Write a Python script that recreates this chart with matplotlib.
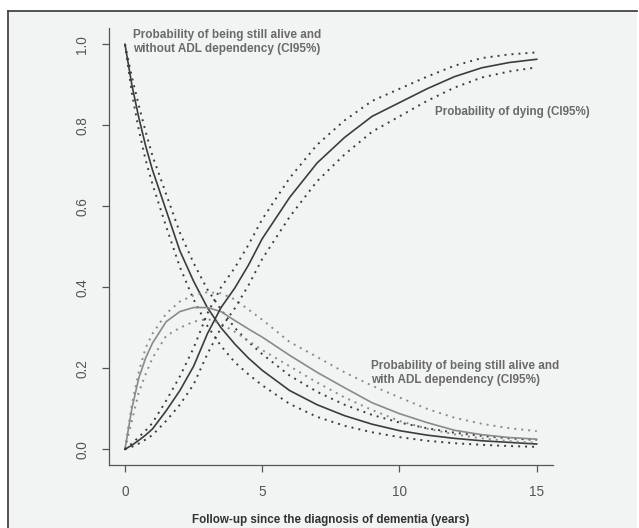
import numpy as np
import matplotlib.pyplot as plt
from matplotlib.patches import Rectangle
from matplotlib.lines import Line2D

plt.rcParams['font.family'] = ['Liberation Sans', 'DejaVu Sans']

# follow-up time (years)
t = [0, 0.25, 0.5, 0.75, 1, 1.5, 2, 2.5, 3, 3.5, 4, 4.5, 5, 6, 7, 8, 9, 10, 11, 12, 13, 14, 15]

# alive without ADL dependency
noadl = [1.0, 0.90, 0.82, 0.75, 0.69, 0.59, 0.49, 0.415, 0.35, 0.30, 0.26, 0.225, 0.195,
         0.145, 0.11, 0.083, 0.062, 0.046, 0.035, 0.027, 0.021, 0.017, 0.013]
noadl_hi = [1.0, 0.92, 0.85, 0.785, 0.725, 0.63, 0.535, 0.46, 0.395, 0.345, 0.30, 0.265, 0.235,
            0.182, 0.142, 0.11, 0.085, 0.066, 0.052, 0.041, 0.033, 0.027, 0.023]
noadl_lo = [1.0, 0.88, 0.79, 0.715, 0.655, 0.55, 0.45, 0.37, 0.305, 0.255, 0.215, 0.185, 0.158,
            0.112, 0.08, 0.058, 0.042, 0.03, 0.021, 0.015, 0.011, 0.008, 0.006]

# alive with ADL dependency
adl = [0, 0.10, 0.175, 0.225, 0.262, 0.315, 0.34, 0.35, 0.35, 0.34, 0.318, 0.297, 0.277,
       0.232, 0.19, 0.152, 0.115, 0.088, 0.066, 0.047, 0.036, 0.029, 0.025]
adl_hi = [0, 0.11, 0.19, 0.25, 0.285, 0.335, 0.365, 0.38, 0.388, 0.385, 0.37, 0.345, 0.32,
          0.265, 0.228, 0.19, 0.157, 0.128, 0.10, 0.078, 0.063, 0.052, 0.045]
adl_lo = [0, 0.07, 0.14, 0.185, 0.225, 0.28, 0.30, 0.315, 0.322, 0.31, 0.29, 0.268, 0.245,
          0.205, 0.165, 0.128, 0.097, 0.07, 0.051, 0.037, 0.027, 0.02, 0.016]

# dying
dead = [0, 0.01, 0.022, 0.035, 0.05, 0.095, 0.145, 0.205, 0.285, 0.35, 0.398, 0.455, 0.52,
        0.622, 0.707, 0.77, 0.822, 0.856, 0.89, 0.92, 0.942, 0.955, 0.963]
dead_hi = [0, 0.014, 0.03, 0.046, 0.065, 0.12, 0.18, 0.25, 0.335, 0.40, 0.448, 0.505, 0.568,
           0.67, 0.752, 0.812, 0.86, 0.89, 0.92, 0.947, 0.966, 0.975, 0.98]
dead_lo = [0, 0.006, 0.014, 0.024, 0.035, 0.07, 0.11, 0.16, 0.235, 0.30, 0.348, 0.405, 0.47,
           0.574, 0.662, 0.728, 0.784, 0.822, 0.86, 0.893, 0.918, 0.933, 0.943]

dark = '#3c3c3c'
grey = '#8a8a8a'
txt = '#6a6a6a'
dots = (0, (1, 2.6))

fig = plt.figure(figsize=(6.39, 5.28), dpi=100, facecolor='white')
fig.patches.append(Rectangle((8/639, 0), 629/639, 1 - 11/528, transform=fig.transFigure,
                             facecolor='#f2f3f3', edgecolor='none', zorder=-10))
fig.lines.append(Line2D([8/639, 637/639], [1 - 11/528, 1 - 11/528], transform=fig.transFigure,
                        color='#444444', lw=1.3))
fig.lines.append(Line2D([8/639, 8/639], [0, 1 - 11/528], transform=fig.transFigure,
                        color='#444444', lw=1.3))

ax = fig.add_axes([0.1698, 0.1184, 0.6959, 0.8284])
ax.set_facecolor('none')

ax.plot(t, noadl, color=dark, lw=1.2)
ax.plot(t, noadl_hi, color=dark, lw=1.4, ls=dots)
ax.plot(t, noadl_lo, color=dark, lw=1.4, ls=dots)

ax.plot(t, adl, color=grey, lw=1.2)
ax.plot(t, adl_hi, color=grey, lw=1.4, ls=dots)
ax.plot(t, adl_lo, color=grey, lw=1.4, ls=dots)

ax.plot(t, dead, color=dark, lw=1.2)
ax.plot(t, dead_hi, color=dark, lw=1.4, ls=dots)
ax.plot(t, dead_lo, color=dark, lw=1.4, ls=dots)

ax.set_xlim(-0.6, 15.6)
ax.set_ylim(-0.04, 1.04)
ax.set_xticks([0, 5, 10, 15])
ax.set_yticks([0.0, 0.2, 0.4, 0.6, 0.8, 1.0])
ax.set_yticklabels(['0.0', '0.2', '0.4', '0.6', '0.8', '1.0'], rotation=90, va='center')
ax.tick_params(length=5, width=0.9, color='#555555', labelcolor='#555555',
               labelsize=9.8, pad=9)
for s in ['top', 'right']:
    ax.spines[s].set_visible(False)
for s in ['left', 'bottom']:
    ax.spines[s].set_color('#555555')
    ax.spines[s].set_linewidth(0.9)

ax.set_xlabel('Follow-up since the diagnosis of dementia (years)', fontsize=8.4,
              fontweight='bold', color='#333333', labelpad=11)

ax.text(0.29, 1.006, 'Probability of being still alive and\nwithout ADL dependency (CI95%)',
        fontsize=8.5, fontweight='bold', color=txt, va='center', ha='left', linespacing=1.15)
ax.text(11.29, 0.832, 'Probability of dying (CI95%)', fontsize=8.4, fontweight='bold',
        color=txt, va='center', ha='left')
ax.text(8.96, 0.188, 'Probability of being still alive and\nwith ADL dependency (CI95%)',
        fontsize=8.5, fontweight='bold', color=txt, va='center', ha='left', linespacing=1.15)

fig.savefig('out.png', dpi=100, facecolor=fig.get_facecolor())
